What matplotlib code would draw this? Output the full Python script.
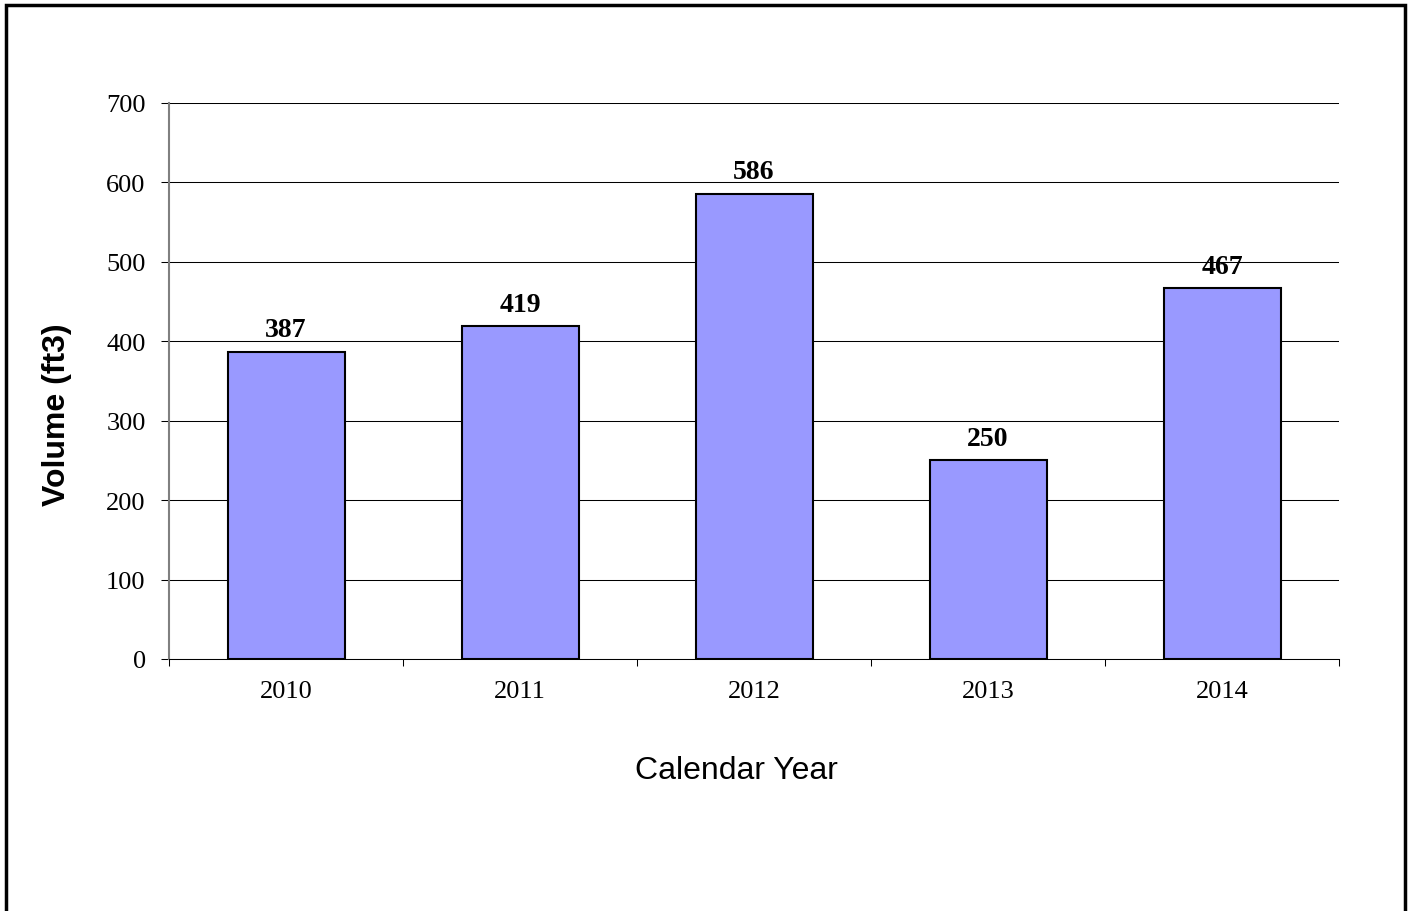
import matplotlib
matplotlib.use("Agg")
import matplotlib.pyplot as plt
from matplotlib.patches import Rectangle

years = ["2010", "2011", "2012", "2013", "2014"]
volumes = [387, 419, 586, 250, 467]
y_ticks = [0, 100, 200, 300, 400, 500, 600, 700]

W, H = 1411, 912
fig = plt.figure(figsize=(W / 100, H / 100), dpi=100)
ax = fig.add_axes([169 / W, 1 - 660 / H, (1339 - 169) / W, (660 - 104) / H])

x = list(range(len(years)))
bars = ax.bar(x, volumes, width=0.5, color="#9999FF", edgecolor="black",
              linewidth=1.5, zorder=3)

ax.set_xlim(-0.5, len(years) - 0.5)
ax.set_ylim(0, 700)
ax.set_yticks(y_ticks)
ax.set_yticklabels([str(t) for t in y_ticks], fontfamily="Liberation Serif", fontsize=19)
ax.yaxis.grid(True, color="black", linewidth=0.75, zorder=0)
ax.tick_params(axis="y", length=5.8, width=0.75, color="black", pad=11)

# category boundary ticks on the x axis
ax.set_xticks([i - 0.5 for i in range(len(years) + 1)])
ax.set_xticklabels([])
ax.set_xticks(x, minor=True)
ax.set_xticklabels(years, minor=True, fontfamily="Liberation Serif", fontsize=19)
ax.tick_params(axis="x", which="major", length=5, width=0.75, color="black")
ax.tick_params(axis="x", which="minor", length=0, pad=15)

for side in ("top", "right"):
    ax.spines[side].set_visible(False)
ax.spines["left"].set_color("#808080")
ax.spines["left"].set_linewidth(1.5)
ax.spines["bottom"].set_color("black")
ax.spines["bottom"].set_linewidth(0.75)

for bx, v in zip(x, volumes):
    ax.text(bx, v + 12, str(v), ha="center", va="bottom", fontfamily="Liberation Serif",
            fontweight="bold", fontsize=20)

ax.set_ylabel("Volume (ft3)", fontfamily="Liberation Sans", fontweight="bold",
              fontsize=23, labelpad=22)
ax.yaxis.set_label_coords(-0.083, 0.442)
ax.set_xlabel("Calendar Year", fontfamily="Liberation Sans", fontsize=23, labelpad=38)
ax.xaxis.label.set_x(0.485)

# outer frame around the chart area
fig.patches.append(Rectangle((6 / W, -0.05), (1405 - 6) / W, 1 - 6 / H + 0.05,
                             transform=fig.transFigure, fill=False,
                             edgecolor="black", linewidth=2.5))

fig.savefig("out.png", dpi=100)
